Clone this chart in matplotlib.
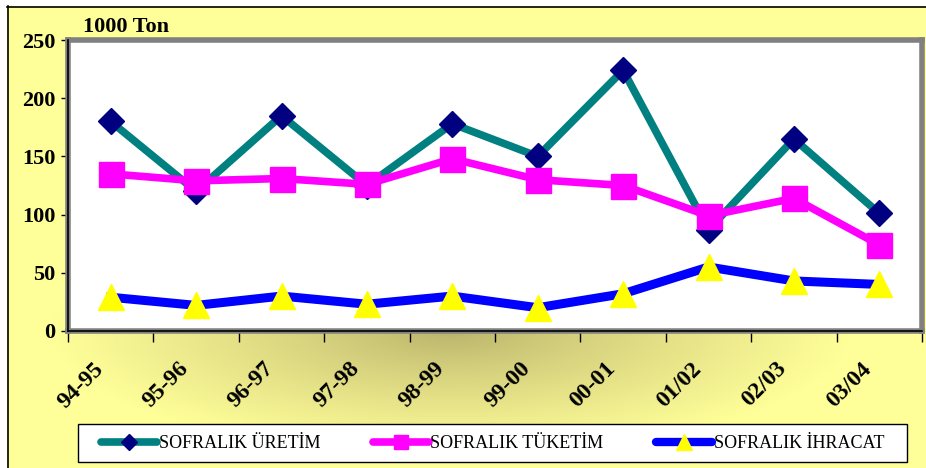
import numpy as np
import matplotlib.pyplot as plt
import matplotlib.transforms as mtransforms
from matplotlib.lines import Line2D
from matplotlib.patches import Rectangle

seasons = ['94-95', '95-96', '96-97', '97-98', '98-99', '99-00', '00-01', '01/02', '02/03', '03/04']
uretim = [180, 120, 185, 125, 178, 150, 224, 87, 165, 101]
tuketim = [135, 129, 131, 126, 148, 130, 125, 99, 114, 74]
ihracat = [29, 22, 30, 23, 30, 20, 32, 55, 43, 40]

names = ['SOFRALIK ÜRETİM', 'SOFRALIK TÜKETİM', 'SOFRALIK İHRACAT']

plt.rcParams['font.family'] = ['Liberation Serif', 'DejaVu Serif']

W, H = 926, 468
fig = plt.figure(figsize=(W / 100, H / 100), dpi=100)
fig.patch.set_facecolor('white')

# yellow background with darker olive centre, inside a black frame
bg = fig.add_axes([0, 0, 1, 1], zorder=0)
yy, xx = np.mgrid[0:H, 0:W]
t = np.sqrt(((xx - 450) / 400.0) ** 2 + ((yy - 330) / 125.0) ** 2)
t = np.clip(t, 0, 1) ** 0.8
light = np.array([255, 255, 153]) / 255.0
dark = np.array([184, 176, 106]) / 255.0
img = dark[None, None, :] * (1 - t[..., None]) + light[None, None, :] * t[..., None]
img[:6, :, :] = 1.0
img[:, :7, :] = 1.0
bg.imshow(img, extent=[0, W, H, 0], aspect='auto', interpolation='bilinear')
bg.plot([7, W], [6.5, 6.5], color='black', lw=1.2)
bg.plot([7.5, 7.5], [6, H], color='black', lw=1.2)
# legend box
bg.add_patch(Rectangle((78, 424), 829, 38, facecolor='white',
                       edgecolor='black', lw=1, zorder=2))
bg.set_xlim(0, W)
bg.set_ylim(H, 0)
bg.axis('off')

ax = fig.add_axes([68 / W, 1 - 331 / H, 854 / W, 291 / H], zorder=2)
ax.set_facecolor('white')
x = np.arange(len(seasons)) + 0.5

ax.plot(x, uretim, color='#008080', lw=5.5, marker='D', ms=13,
        mfc='#000080', mec='#000080', zorder=3)
ax.plot(x, tuketim, color='#FF00FF', lw=5.5, marker='s', ms=18,
        mfc='#FF00FF', mec='#FF00FF', zorder=4)
ax.plot(x, ihracat, color='#0000FF', lw=6.5, marker='^', ms=19,
        mfc='#FFFF00', mec='#FFFF00', zorder=5)

ax.set_xlim(0, len(seasons))
ax.set_ylim(0, 250)
ax.set_yticks(np.arange(0, 251, 50))
ax.tick_params(axis='y', direction='out', length=5, width=1, pad=4,
               labelsize=16)
for lab in ax.get_yticklabels():
    lab.set_fontweight('bold')

ax.set_xticks(x)
ax.set_xticklabels(seasons, rotation=45, ha='right', va='top',
                   rotation_mode='anchor', fontsize=17, fontweight='bold')
ax.tick_params(axis='x', which='major', length=0, pad=16)
shift = mtransforms.ScaledTranslation(-13 / 72, -3.6 / 72, fig.dpi_scale_trans)
for lab in ax.get_xticklabels():
    lab.set_transform(lab.get_transform() + shift)
ax.set_xticks(np.arange(0, len(seasons) + 1), minor=True)
ax.tick_params(axis='x', which='minor', direction='out', length=8, width=1)

for s in ax.spines.values():
    s.set_color('#808080')
    s.set_linewidth(4)
ax.axvline(0, color='black', lw=1.2, zorder=6, clip_on=False)
ax.axhline(0, color='black', lw=1.2, zorder=6, clip_on=False)

fig.text(83 / W, 1 - 32 / H, '1000 Ton', fontsize=16, fontweight='bold',
         ha='left', va='baseline', zorder=3)

handles = [
    Line2D([], [], color='#008080', lw=5.5, marker='D', ms=8,
           mfc='#000080', mec='#000080', solid_capstyle='round'),
    Line2D([], [], color='#FF00FF', lw=5.5, marker='s', ms=10,
           mfc='#FF00FF', mec='#FF00FF', solid_capstyle='round'),
    Line2D([], [], color='#0000FF', lw=6, marker='^', ms=11,
           mfc='#FFFF00', mec='#FFFF00', solid_capstyle='round'),
]
leg = fig.legend(handles, names, loc='center', ncol=3,
                 bbox_to_anchor=((78 + 829 / 2) / W, 1 - 444 / H),
                 fontsize=13, frameon=False, handlelength=3.1,
                 handletextpad=0.1, columnspacing=2.9, borderpad=0)
leg.set_zorder(3)

fig.savefig('out.png', dpi=100)
